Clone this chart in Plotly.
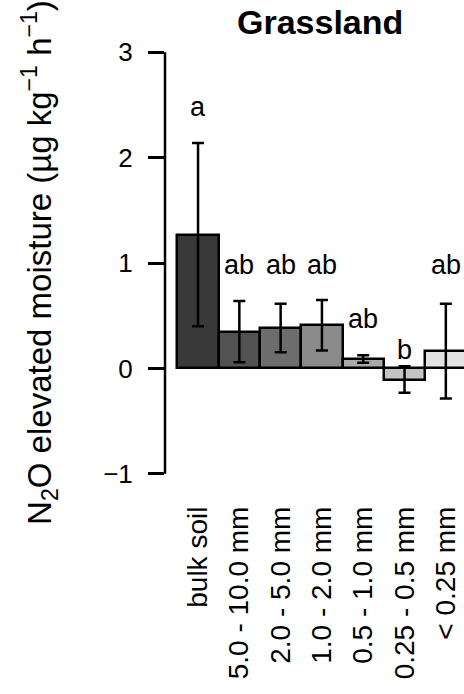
import plotly.graph_objects as go

# Aggregate size classes and N2O response under elevated moisture
categories = ["bulk soil", "5.0 - 10.0 mm", "2.0 - 5.0 mm", "1.0 - 2.0 mm",
              "0.5 - 1.0 mm", "0.25 - 0.5 mm", "< 0.25 mm"]
means = [1.27, 0.35, 0.385, 0.41, 0.09, -0.105, 0.165]
errors = [0.87, 0.29, 0.23, 0.24, 0.035, 0.125, 0.45]
letters = ["a", "ab", "ab", "ab", "ab", "b", "ab"]
letter_y = [2.48, 0.98, 0.98, 0.98, 0.47, 0.18, 0.98]
fills = ["#393939", "#525252", "#6d6d6d", "#8b8b8b", "#a9a9a9", "#c4c4c4", "#e3e3e3"]
y_ticks = [-1, 0, 1, 2, 3]

FONT = "Liberation Sans, Arial, sans-serif"
LW = 2.5

fig = go.Figure()
fig.add_trace(go.Bar(
    x=categories,
    y=means,
    width=1,
    marker=dict(color=fills, line=dict(color="black", width=LW)),
    error_y=dict(type="data", array=errors, visible=True,
                 color="black", thickness=LW, width=6),
    showlegend=False,
))

annotations = []
for cat, txt, ly in zip(categories, letters, letter_y):
    annotations.append(dict(
        x=cat, y=ly, xref="x", yref="y", text=txt, showarrow=False,
        font=dict(family=FONT, size=27, color="black"),
        xanchor="center", yanchor="middle",
    ))

annotations.append(dict(
    x=0.518, y=1.039, xref="paper", yref="paper", text="<b>Grassland</b>",
    showarrow=False, font=dict(family=FONT, size=34, color="black"),
    xanchor="center", yanchor="middle",
))

annotations.append(dict(
    x=-0.42, y=-0.0587, xref="paper", yref="paper",
    text="N<sub>2</sub>O elevated moisture (µg kg<sup>−1</sup> h<sup>−1</sup>)",
    showarrow=False, textangle=-90,
    font=dict(family=FONT, size=33, color="black"),
    xanchor="center", yanchor="bottom",
))

fig.update_layout(
    width=464, height=694,
    margin=dict(l=165, r=0, t=40, b=194),
    paper_bgcolor="white", plot_bgcolor="white",
    bargap=0,
    annotations=annotations,
    shapes=[dict(type="line", xref="paper", yref="y", x0=0, x1=0,
                 y0=min(y_ticks), y1=max(y_ticks),
                 line=dict(color="black", width=LW))],
    xaxis=dict(
        type="category", range=[-0.8, 6.44],
        showline=False, showgrid=False, zeroline=False, ticks="",
        tickangle=-90, tickfont=dict(family=FONT, size=28, color="black"),
    ),
    yaxis=dict(
        range=[-1.248, 3.117], tickvals=y_ticks,
        showline=False, showgrid=False, zeroline=False,
        ticks="outside", ticklen=16, tickwidth=LW, tickcolor="black",
        ticklabelstandoff=10,
        tickfont=dict(family=FONT, size=26, color="black"),
    ),
)

fig.write_html("out.html")
